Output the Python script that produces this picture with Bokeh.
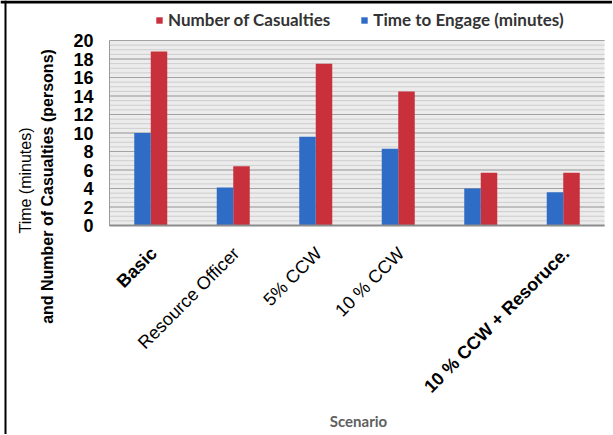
import math
from bokeh.plotting import figure
from bokeh.core.properties import value
from bokeh.models import (ColumnDataSource, Range1d, Label, LabelSet, Span,
                          Legend, LegendItem)
from bokeh.transform import dodge
from bokeh.embed import file_html
from bokeh.resources import INLINE

# ---- data ----
scenarios = ["Basic", "Resource Officer", "5% CCW", "10 % CCW", "", "10 % CCW + Resoruce."]
casualties = [18.8, 6.4, 17.5, 14.5, 5.7, 5.7]
time_to_engage = [10.0, 4.1, 9.6, 8.3, 4.0, 3.6]
y_ticks = [0, 2, 4, 6, 8, 10, 12, 14, 16, 18, 20]
y_minor_step = 0.5

# ---- layout (pixels) ----
W, H = 612, 434
FL, FR, FT, FB = 109, 604, 40, 225          # plot area edges on the canvas
ncat = len(scenarios)
ymax = y_ticks[-1]
kx = (FR - FL) / ncat                        # px per category
ky = (FB - FT) / ymax                        # px per y unit

BLUE = "#2f6cc6"
RED = "#c8313b"
SANS = value("Liberation Sans")

p = figure(width=W, height=H, output_backend="svg", toolbar_location=None,
           x_range=Range1d(-FL / kx, ncat + (W - FR) / kx),
           y_range=Range1d(-(H - FB) / ky, ymax + FT / ky),
           x_axis_location=None, y_axis_location=None, min_border=0)
p.xgrid.visible = False
p.ygrid.visible = False
p.outline_line_color = None
p.background_fill_color = "white"
p.border_fill_color = "white"

# plot area background and grid lines (from the tick lists)
p.quad(left=0, right=ncat, bottom=y_ticks[0], top=ymax, fill_color="#ececec",
       line_color=None)
minor = [i * y_minor_step for i in range(int(ymax / y_minor_step) + 1)]
p.segment(x0=[0] * len(minor), x1=[ncat] * len(minor), y0=minor, y1=minor,
          line_color="#cdcdcd", line_width=1)
p.segment(x0=[0] * len(y_ticks), x1=[ncat] * len(y_ticks), y0=y_ticks, y1=y_ticks,
          line_color="#a2a2a2", line_width=1)
p.segment(x0=[0], x1=[0], y0=[0], y1=[ymax], line_color="#9a9a9a", line_width=1)

# bars
xpos = [i + 0.5 for i in range(ncat)]
src = ColumnDataSource(dict(x=xpos, cas=casualties, tte=time_to_engage))
r_red = p.vbar(x=dodge("x", 0.1, range=p.x_range), top="cas", width=0.2, bottom=0,
               source=src, fill_color=RED, line_color=None)
r_blue = p.vbar(x=dodge("x", -0.1, range=p.x_range), top="tte", width=0.2, bottom=0,
                source=src, fill_color=BLUE, line_color=None)
p.segment(x0=[0], x1=[ncat], y0=[0], y1=[0], line_color="#8c8c8c", line_width=2)

# y tick labels
ysrc = ColumnDataSource(dict(x=[0] * len(y_ticks), y=y_ticks,
                             t=[str(v) for v in y_ticks]))
p.add_layout(LabelSet(x="x", y="y", text="t", source=ysrc, x_offset=-16,
                      text_align="right", text_baseline="middle",
                      text_font=SANS, text_font_style="bold",
                      text_font_size="18px", text_color="black"))

# category labels (rotated)
bold_names = {"Basic", "10 % CCW + Resoruce."}
for bold in (False, True):
    idx = [i for i, s in enumerate(scenarios) if s and ((s in bold_names) == bold)]
    s2 = ColumnDataSource(dict(x=[xpos[i] for i in idx], y=[0] * len(idx),
                               name=[scenarios[i] for i in idx]))
    p.add_layout(LabelSet(x="x", y="y", text="name", source=s2, angle=math.pi / 4,
                          x_offset=3, y_offset=-25, text_align="right",
                          text_baseline="middle", text_font=SANS,
                          text_font_size="18px",
                          text_font_style="bold" if bold else "normal",
                          text_color="black"))

# y axis title (two lines)
p.add_layout(Label(x=(25 - FL) / kx, y=(FB - 180) / ky, text="Time (minutes)",
                   angle=math.pi / 2, text_align="center", text_baseline="middle",
                   text_font="Liberation Sans", text_font_size="16px",
                   text_color="black"))
p.add_layout(Label(x=(47 - FL) / kx, y=(FB - 186) / ky,
                   text="and Number of Casualties (persons)",
                   angle=math.pi / 2, text_align="center", text_baseline="middle",
                   text_font="Liberation Sans", text_font_size="16px",
                   text_font_style="bold", text_color="black"))

# x axis title
p.add_layout(Label(x=(358 - FL) / kx, y=-(420 - FB) / ky, text="Scenario",
                   text_align="center", text_baseline="middle", text_font="Lato",
                   text_font_size="15px", text_font_style="bold",
                   text_color="#606060"))

# scan frame edges
p.add_layout(Span(location=ymax + (FT - 1.5) / ky, dimension="width",
                  line_color="black", line_width=3))
p.add_layout(Span(location=-(FL - 5) / kx, dimension="height",
                  line_color="black", line_width=2))

legend = Legend(items=[LegendItem(label="Number of Casualties", renderers=[r_red]),
                       LegendItem(label="Time to Engage (minutes)", renderers=[r_blue])],
                orientation="horizontal", location=(155, H - 30),
                glyph_width=8, glyph_height=8, label_standoff=5, spacing=30,
                padding=0, margin=0, border_line_color=None,
                background_fill_alpha=0, label_text_font="Lato",
                label_text_font_style="bold", label_text_font_size="17px",
                label_text_color="#333333", label_height=20)
p.add_layout(legend)

open("out.html", "w").write(file_html(p, INLINE))
